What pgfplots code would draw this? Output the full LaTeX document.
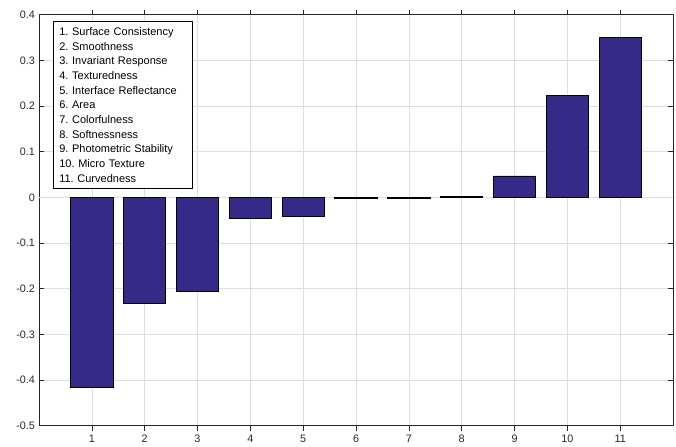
\documentclass[border=0pt]{standalone}
\usepackage{pgfplots}
\pgfplotsset{compat=1.18}
\usepackage{fontspec}
\setmainfont{Liberation Sans}
\frenchspacing
\definecolor{barblue}{RGB}{53,42,135}
\definecolor{axgray}{RGB}{38,38,38}
\begin{document}
\begin{tikzpicture}
\begin{axis}[
  scale only axis,
  width=634pt, height=411pt,
  xmin=0, xmax=12, ymin=-0.5, ymax=0.4,
  xtick={1,2,3,4,5,6,7,8,9,10,11},
  ytick={-0.5,-0.4,-0.3,-0.2,-0.1,0,0.1,0.2,0.3,0.4},
  yticklabels={-0.5,-0.4,-0.3,-0.2,-0.1,0,0.1,0.2,0.3,0.4},
  /pgf/number format/assume math mode=true,
  tick label style={font=\fontsize{10.8}{12}\selectfont, text=axgray},
  xticklabel style={yshift=-1pt},
  yticklabel style={xshift=-0.5pt},
  tick align=inside,
  major tick length=5pt,
  tick style={axgray, line width=0.6pt},
  axis line style={axgray, line width=0.6pt},
  grid=major,
  major grid style={black!13, line width=0.5pt},
  extra y ticks={0},
  extra y tick labels={},
  extra y tick style={grid style={black!55, line width=0.6pt}, major tick length=0pt},
  ybar, bar width=0.8,
  axis on top=false,
]
\addplot[fill=barblue, draw=black, line width=0.8pt] coordinates {
(1,-0.417) (2,-0.232) (3,-0.2065) (4,-0.0457) (5,-0.041) (6,-0.003)
(7,-0.002) (8,0.002) (9,0.047) (10,0.223) (11,0.351)};
\node[anchor=north west, draw=black, line width=0.6pt, fill=white, align=left,
  inner xsep=6pt, inner ysep=6.5pt, text width=127pt,
  font=\fontsize{11}{14.67}\selectfont] at ([xshift=14pt,yshift=-6pt]rel axis cs:0,1)
  {1. Surface Consistency\\2. Smoothness\\3. Invariant Response\\4. Texturedness\\5. Interface Reflectance\\6. Area\\7. Colorfulness\\8. Softnessness\\9. Photometric Stability\\10. Micro Texture\\11. Curvedness};
\end{axis}
\path[use as bounding box] (-39pt,-19.3pt) rectangle (637pt,425.7pt);
\end{tikzpicture}
\end{document}
